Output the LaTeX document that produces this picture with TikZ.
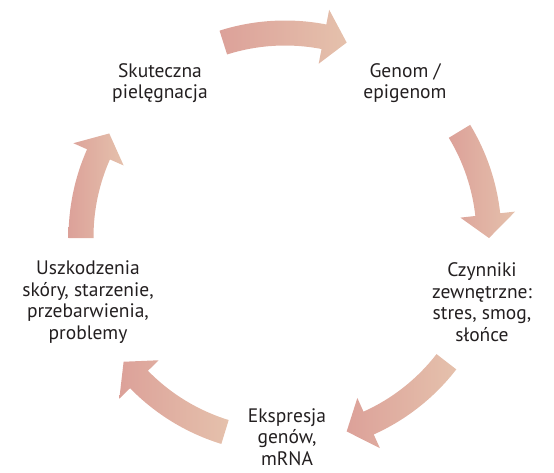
\documentclass[tikz,border=0pt]{standalone}
\usepackage{fontspec}
\setmainfont{PT Sans}
\usepackage{tikz}

\definecolor{arrowdark}{RGB}{220,161,153}
\definecolor{arrowlight}{RGB}{229,193,172}
\definecolor{labeltext}{RGB}{35,31,32}

% curved block arrow on the cycle, from tail angle #1 to tip angle #2
\newcommand{\cyclearrow}[2]{%
  \pgfmathsetmacro\headbase{#2+6.6}
  \shade[left color=arrowdark,right color=arrowlight]
    ([shift={(c)}]#1:216.5) arc[start angle=#1,end angle=\headbase,radius=216.5]
    -- ([shift={(c)}]\headbase:231.5) -- ([shift={(c)}]#2:204)
    -- ([shift={(c)}]\headbase:176.5) -- ([shift={(c)}]\headbase:191.5)
    arc[start angle=\headbase,end angle=#1,radius=191.5] -- cycle;
}

\begin{document}
\begin{tikzpicture}[x=1pt,y=1pt,
    step label/.style={align=center,text=labeltext,
      font=\fontsize{19.5}{21.5}\selectfont}]
    \useasboundingbox (0,0) rectangle (554,472);
    \coordinate (c) at (285,235);

    \cyclearrow{107.6}{72.4}
    \cyclearrow{31.2}{-0.3}
    \cyclearrow{-37.7}{-72.4}
    \cyclearrow{-107.1}{-142.3}
    \cyclearrow{180.3}{149.5}

    \node[step label] (care) at (160,389) {Skuteczna\\pielęgnacja};
    \node[step label] (genome) at (405,389) {Genom /\\epigenom};
    \node[step label] (factors) at (482,170) {Czynniki\\zewnętrzne:\\stres, smog,\\słońce};
    \node[step label] (expression) at (287,35) {Ekspresja\\genów,\\mRNA};
    \node[step label] (damage) at (88,170) {Uszkodzenia\\skóry, starzenie,\\przebarwienia,\\problemy};
\end{tikzpicture}
\end{document}
